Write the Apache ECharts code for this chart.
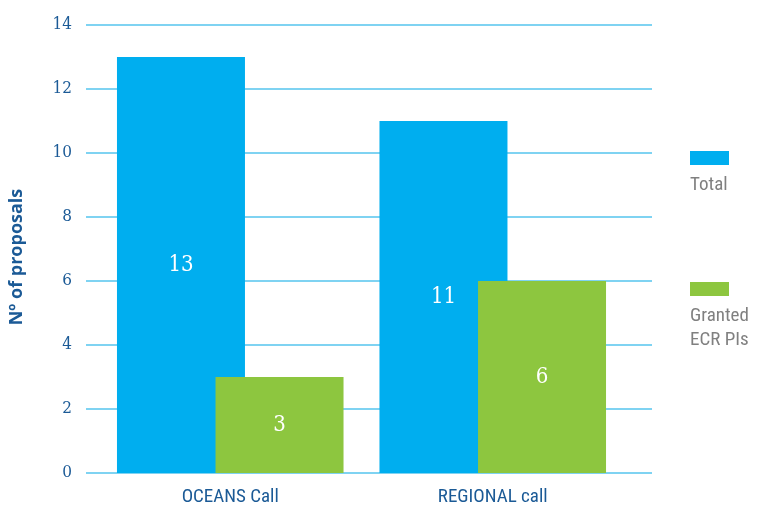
<!DOCTYPE html>
<html>
<head>
<meta charset="utf-8">
<script src="https://cdn.jsdelivr.net/npm/echarts@6/dist/echarts.min.js"></script>
<style>
  html, body { margin: 0; padding: 0; background: #fff; }
  #chart { width: 758px; height: 509px; }
</style>
</head>
<body>
<div id="chart"></div>
<script>
// data
const categories = ['OCEANS Call', 'REGIONAL call']
const totalValues = [13, 11]
const grantedValues = [3, 6]
const yTicks = [0, 2, 4, 6, 8, 10, 12, 14]

const blue = '#00aeef'
const green = '#8dc63f'
const darkBlue = '#1b5a96'
const gridBlue = '#7fd3f2'

const myChart = echarts.init(document.getElementById('chart'))

const barLabel = {
    show: true,
    position: 'inside',
    color: '#fff',
    fontSize: 22,
    fontFamily: 'DejaVu Serif Condensed, DejaVu Serif, serif'
}

const options = {
    animation: false,
    // grid 0: gridlines + y labels, grid 1: bars
    grid: [
        {left: 80, right: 106, top: 25, bottom: 36},
        {left: 99, right: 134, top: 25, bottom: 36}
    ],
    xAxis: [
        {gridIndex: 0, type: 'category', show: false, data: categories},
        {
            gridIndex: 1,
            type: 'category',
            data: categories,
            axisLine: {show: false},
            axisTick: {show: false},
            axisLabel: {
                color: darkBlue,
                fontSize: 19,
                fontFamily: 'Roboto Condensed, Roboto, sans-serif',
                margin: 15
            }
        }
    ],
    yAxis: [
        {
            gridIndex: 0,
            type: 'value',
            min: yTicks[0],
            max: yTicks[yTicks.length - 1],
            interval: 2,
            name: 'Nº of proposals',
            nameLocation: 'middle',
            nameGap: 60,
            nameTextStyle: {
                color: darkBlue,
                fontSize: 18,
                fontWeight: 'bold',
                fontFamily: 'Open Sans, sans-serif',
                padding: [0, 16, 0, 0]
            },
            axisLine: {show: false},
            axisTick: {show: false},
            axisLabel: {
                color: darkBlue,
                fontSize: 17,
                margin: 14,
                fontFamily: 'DejaVu Serif Condensed, DejaVu Serif, serif'
            },
            splitLine: {lineStyle: {color: gridBlue, width: 2}}
        },
        {
            gridIndex: 1,
            type: 'value',
            min: yTicks[0],
            max: yTicks[yTicks.length - 1],
            interval: 2,
            show: false,
            splitLine: {show: false}
        }
    ],
    series: [
        {
            name: 'Total',
            type: 'bar',
            xAxisIndex: 1,
            yAxisIndex: 1,
            data: totalValues,
            barWidth: 128,
            barGap: '-23%',
            itemStyle: {color: blue},
            label: barLabel
        },
        {
            name: 'Granted ECR PIs',
            type: 'bar',
            xAxisIndex: 1,
            yAxisIndex: 1,
            data: grantedValues,
            barWidth: 128,
            barGap: '-23%',
            itemStyle: {color: green},
            label: barLabel
        }
    ],
    // legend, drawn by hand (text under the swatch)
    graphic: [
        {type: 'rect', left: 690, top: 151, shape: {width: 39, height: 14}, style: {fill: blue}},
        {type: 'text', left: 690, top: 176, style: {text: 'Total', fill: '#808080', fontSize: 19, fontFamily: 'Roboto Condensed, Roboto, sans-serif'}},
        {type: 'rect', left: 690, top: 282, shape: {width: 39, height: 14}, style: {fill: green}},
        {type: 'text', left: 690, top: 304, style: {text: 'Granted\nECR PIs', fill: '#808080', fontSize: 19, lineHeight: 24, fontFamily: 'Roboto Condensed, Roboto, sans-serif'}}
    ]
}
myChart.setOption(options)
</script>
</body>
</html>
